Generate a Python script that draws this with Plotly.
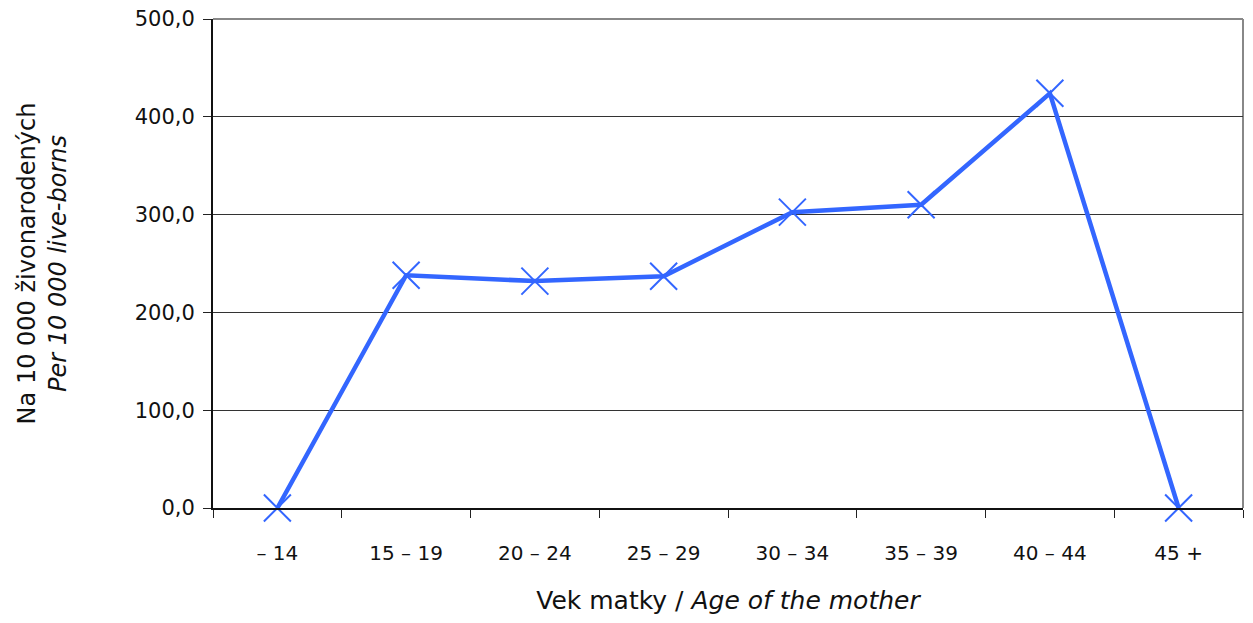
import plotly.graph_objects as go

categories = ["– 14", "15 – 19", "20 – 24", "25 – 29", "30 – 34", "35 – 39", "40 – 44", "45 +"]
values = [0.0, 238.0, 232.0, 237.0, 302.5, 310.0, 424.0, 0.0]
y_ticks = [0, 100, 200, 300, 400, 500]
y_tick_labels = ["0,0", "100,0", "200,0", "300,0", "400,0", "500,0"]

font_family = "DejaVu Sans, sans-serif"

fig = go.Figure()
fig.add_trace(go.Scatter(
    x=categories, y=values, mode="lines+markers",
    line=dict(color="#3366FF", width=4.5),
    marker=dict(symbol="x-thin-open", size=27, color="#3366FF",
                line=dict(color="#3366FF", width=2)),
    cliponaxis=False, showlegend=False,
))

fig.add_shape(type="line", xref="x domain", yref="y domain", x0=0, x1=1, y0=1, y1=1,
              line=dict(color="#888888", width=2), layer="below")
fig.add_shape(type="line", xref="x domain", yref="y domain", x0=1, x1=1, y0=0, y1=1,
              line=dict(color="#888888", width=2), layer="below")

fig.update_layout(
    width=1237, height=607,
    margin=dict(l=205, r=2, t=11, b=107),
    paper_bgcolor="white", plot_bgcolor="white",
    font=dict(family=font_family, size=20, color="#111111"),
    xaxis=dict(
        type="category", tickson="boundaries", ticks="outside", ticklen=8,
        tickcolor="#222222", tickwidth=1, automargin=False,
        showline=True, linecolor="#111111", linewidth=1.5,
        showgrid=False, tickfont=dict(size=20), ticklabelstandoff=26,
        title=dict(text="Vek matky / <i>Age of the mother</i>", font=dict(size=25), standoff=47),
        range=[-0.5, 7.5],
    ),
    yaxis=dict(
        range=[0, 500], tickvals=y_ticks, ticktext=y_tick_labels,
        ticks="outside", ticklen=8, tickcolor="#222222", ticklabelstandoff=4,
        ticklabeloverflow="allow", automargin=False,
        showline=True, linecolor="#111111", linewidth=2,
        showgrid=True, gridcolor="#333333", gridwidth=1,
        zeroline=False, tickfont=dict(size=21),
        title=dict(text="Na 10 000 živonarodených<br><i>Per 10 000 live-borns</i>",
                   font=dict(size=24), standoff=61),
    ),
)

fig.write_html("out.html")
